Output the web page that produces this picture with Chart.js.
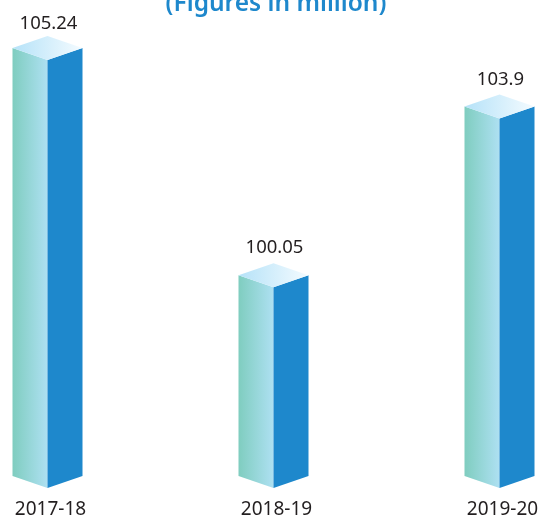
<!DOCTYPE html>
<html>
<head>
<meta charset="utf-8">
<style>
  html, body { margin: 0; padding: 0; background: #fff; }
  #wrap { width: 539px; height: 517px; }
</style>
</head>
<body>
<div id="wrap"><canvas id="volumeChart" width="539" height="517"></canvas></div>
<script src="https://cdn.jsdelivr.net/npm/chart.js@4"></script>
<script>
const categories = ["2017-18", "2018-19", "2019-20"];
const values = [105.24, 100.05, 103.9];
const valueLabels = ["105.24", "100.05", "103.9"];
const titleText = "(Figures in million)";
const axisMin = 95.47;
const axisMax = 106;

// --------- draws the box faces from the bar elements ---------
const boxPlugin = {
    id: "boxPlugin",
    afterDatasetsDraw(chart) {
        const ctx = chart.ctx;
        const bars = chart.getDatasetMeta(0).data;
        const depth = 12;

        bars.forEach((bar, i) => {
            const half = bar.width / 2;
            const x = bar.x, y = bar.y, base = bar.base;

            // left face
            let grad = ctx.createLinearGradient(x - half, 0, x, 0);
            grad.addColorStop(0, "#7fcdbf");
            grad.addColorStop(1, "#aee0f2");
            ctx.fillStyle = grad;
            ctx.beginPath();
            ctx.moveTo(x - half, y - depth);
            ctx.lineTo(x, y);
            ctx.lineTo(x, base);
            ctx.lineTo(x - half, base - depth);
            ctx.closePath();
            ctx.fill();

            // right face
            ctx.fillStyle = "#1e88cc";
            ctx.beginPath();
            ctx.moveTo(x, y);
            ctx.lineTo(x + half, y - depth);
            ctx.lineTo(x + half, base - depth);
            ctx.lineTo(x, base);
            ctx.closePath();
            ctx.fill();

            // top face
            grad = ctx.createLinearGradient(x - half, 0, x + half, 0);
            grad.addColorStop(0, "#b5e2f8");
            grad.addColorStop(1, "#f4fbff");
            ctx.fillStyle = grad;
            ctx.beginPath();
            ctx.moveTo(x - half, y - depth);
            ctx.lineTo(x, y - depth * 2);
            ctx.lineTo(x + half, y - depth);
            ctx.lineTo(x, y);
            ctx.closePath();
            ctx.fill();

            // value above the box, kept inside the top of the picture
            ctx.fillStyle = "#231f20";
            ctx.font = "18.5px 'Noto Sans'";
            ctx.textAlign = "center";
            ctx.textBaseline = "alphabetic";
            ctx.fillText(valueLabels[i], x + 1, Math.max(y - 34, 29));
        });

        // title is cut by the top edge of the picture
        ctx.fillStyle = "#1e88cc";
        ctx.font = "600 24.5px 'Noto Sans'";
        ctx.textAlign = "center";
        ctx.textBaseline = "alphabetic";
        ctx.fillText(titleText, 276, 11);
    }
};

new Chart(document.getElementById("volumeChart"), {
    type: "bar",
    data: {
        labels: categories,
        datasets: [{
            data: values,
            base: axisMin,
            backgroundColor: "rgba(0,0,0,0)",
            barThickness: 70
        }]
    },
    options: {
        responsive: false,
        animation: false,
        layout: { padding: { top: 26.6, left: 47.5, right: 39.5, bottom: 0 } },
        plugins: { legend: { display: false }, tooltip: { enabled: false } },
        scales: {
            x: {
                offset: false,
                grid: { display: false },
                border: { display: false },
                ticks: {
                    padding: 2,
                    labelOffset: 3,
                    maxRotation: 0,
                    autoSkip: false,
                    color: "#231f20",
                    font: { family: "'Noto Sans'", size: 19 }
                },
                afterFit(scale) { scale.height = 29; }
            },
            y: {
                display: false,
                min: axisMin,
                max: axisMax
            }
        }
    },
    plugins: [boxPlugin]
});
</script>
</body>
</html>
